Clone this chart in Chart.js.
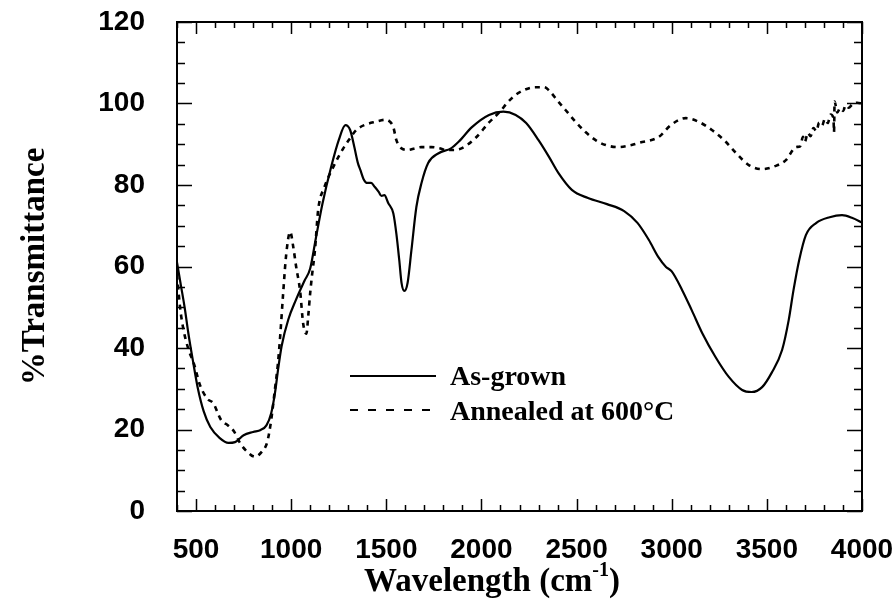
<!DOCTYPE html>
<html><head><meta charset="utf-8">
<script src="https://cdn.jsdelivr.net/npm/chart.js@4/dist/chart.umd.min.js"></script>
<style>html,body{margin:0;padding:0;background:#fff}#wrap{width:893px;height:603px}</style>
</head><body><div id="wrap"><canvas id="c" width="893" height="603"></canvas></div>
<script>
// ---- data ----
const asGrownX = [400,420,440,460,485,510,540,575,625,670,705,750,800,840,870,895,915,932,950,985,1025,1070,1100,1130,1165,1210,1250,1285,1310,1332,1350,1365,1380,1400,1420,1440,1460,1475,1490,1510,1537,1553,1568,1580,1595,1612,1632,1658,1685,1720,1775,1840,1880,1950,2040,2115,2180,2235,2300,2355,2405,2475,2560,2660,2750,2820,2880,2930,2970,3000,3055,3105,3160,3230,3300,3370,3420,3475,3525,3580,3615,3640,3670,3705,3760,3830,3895,3950,4000];
const asGrownY = [61,55.5,50,43.5,36.5,30,24.5,20.6,17.9,16.7,16.9,18.6,19.4,19.9,21,24,29,35,40.5,47,51.8,56.5,59.5,67,75.5,84.4,91,94.7,93.5,89.3,85.5,83.5,81.5,80.5,80.5,79.5,78.3,77.3,77.5,75.6,73,68,61.6,56,54,56,64,74.6,80.5,85.4,87.8,89,90.6,94.2,97.2,98,97.2,95.2,91,86.9,82.9,78.8,76.8,75.3,73.6,70.7,66.5,62.3,59.9,58.8,54.2,49.3,43.7,37.8,32.9,29.7,29.2,30.4,33.9,39.5,46.9,54.2,61.6,67.7,70.7,72.1,72.6,71.9,70.8];

const annealedX = [400,416,432,458,490,520,560,590,632,668,700,731,770,810,845,874,895,915,930,942,958,974,995,1011,1026,1047,1063,1080,1090,1100,1110,1125,1142,1175,1221,1274,1310,1342,1390,1442,1495,1520,1537,1553,1580,1616,1650,1684,1737,1780,1811,1850,1895,1968,2037,2105,2132,2195,2284,2330,2353,2405,2442,2495,2547,2600,2653,2721,2789,2826,2932,2995,3074,3142,3211,3284,3337,3405,3474,3547,3600,3653,3675,3690,3700,3715,3730,3745,3760,3775,3790,3805,3820,3835,3850,3853,3856,3870,3885,3900,3915,3930,3950,3975,4000];
const annealedY = [58,50,45,40,36,31,27.5,26.5,22.3,21,19.5,16.7,14.5,13.3,14.5,16.9,22.3,30,36,42.7,53.5,63,68.5,64.8,60,54,46,43.5,48,53.5,58,64,73.9,79.5,84.4,89,91.5,93.5,94.8,95.5,96,95.5,94.2,91,89,88.6,89,89.3,89.3,89,88.6,88.6,89,91.5,95.2,98.4,100,102.6,104,104,103.3,100.4,98.4,95.5,93,91,89.8,89.3,89.8,90.3,91.8,94.7,96.4,95.5,93.5,90.6,87.9,84.9,83.9,84.7,86.1,89.3,89.5,91.8,90.6,92.8,92,94,93.2,95.3,94.6,96.2,95.2,97.3,96.4,93,100.5,97.8,98.9,98.2,99.6,99,99.8,100.2,100];

const seriesNames = ['As-grown', 'Annealed at 600\u00B0C'];
const xTickValues = [500,1000,1500,2000,2500,3000,3500,4000];
const yTickValues = [0,20,40,60,80,100,120];
const xTitleMain = 'Wavelength (cm';
const xTitleSup = '-1';
const xTitleEnd = ')';
const yTitle = '%Transmittance';

function pts(xs, ys) { return xs.map((x, i) => ({ x: x, y: ys[i] })); }

const framePlugin = {
  id: 'frame',
  afterDraw(chart) {
    const ctx = chart.ctx, a = chart.chartArea;
    const xs = chart.scales.x, ys = chart.scales.y;
    ctx.save();
    ctx.strokeStyle = '#000';
    ctx.lineWidth = 2;
    ctx.strokeRect(a.left, a.top, a.right - a.left, a.bottom - a.top);
    ctx.lineWidth = 1.5;
    ctx.beginPath();
    for (let v = 400; v <= 4000; v += 100) {
      const p = Math.round(xs.getPixelForValue(v)) + 0.5;
      const len = (v % 500 === 0) ? 12 : 6;
      ctx.moveTo(p, a.bottom); ctx.lineTo(p, a.bottom - len);
      ctx.moveTo(p, a.top); ctx.lineTo(p, a.top + len);
    }
    for (let v = 0; v <= 120; v += 5) {
      const p = Math.round(ys.getPixelForValue(v)) + 0.5;
      const len = (v % 20 === 0) ? 15 : 8;
      ctx.moveTo(a.left, p); ctx.lineTo(a.left + len, p);
      ctx.moveTo(a.right, p); ctx.lineTo(a.right - len, p);
    }
    ctx.stroke();

    // legend
    ctx.lineWidth = 2;
    ctx.beginPath(); ctx.moveTo(350, 376); ctx.lineTo(436, 376); ctx.stroke();
    ctx.setLineDash([8, 10]);
    ctx.beginPath(); ctx.moveTo(350, 410); ctx.lineTo(436, 410); ctx.stroke();
    ctx.setLineDash([]);
    ctx.fillStyle = '#000';
    ctx.font = 'bold 28px "Liberation Serif"';
    ctx.textBaseline = 'alphabetic';
    ctx.textAlign = 'left';
    ctx.fillText(seriesNames[0], 450, 385);
    ctx.fillText(seriesNames[1], 450, 420);

    // x title
    ctx.font = 'bold 33px "Liberation Serif"';
    const w1 = ctx.measureText(xTitleMain).width;
    ctx.font = 'bold 20px "Liberation Serif"';
    const w2 = ctx.measureText(xTitleSup).width;
    ctx.font = 'bold 33px "Liberation Serif"';
    const w3 = ctx.measureText(xTitleEnd).width;
    const cx = 492, total = w1 + w2 + w3;
    let x0 = cx - total / 2;
    const by = 591;
    ctx.fillText(xTitleMain, x0, by);
    ctx.font = 'bold 20px "Liberation Serif"';
    ctx.fillText(xTitleSup, x0 + w1, by - 15);
    ctx.font = 'bold 33px "Liberation Serif"';
    ctx.fillText(xTitleEnd, x0 + w1 + w2, by);

    // y title
    ctx.translate(35, (a.top + a.bottom) / 2);
    ctx.rotate(-Math.PI / 2);
    ctx.textAlign = 'center';
    ctx.textBaseline = 'middle';
    ctx.fillText(yTitle, 0, 0);
    ctx.restore();
  }
};

const tickFont = { family: '"Liberation Sans", Arial, sans-serif', size: 28, weight: 'bold' };

new Chart(document.getElementById('c'), {
  type: 'line',
  data: {
    datasets: [
      { label: seriesNames[0], data: pts(asGrownX, asGrownY), borderColor: '#000', borderWidth: 2.2,
        pointRadius: 0, cubicInterpolationMode: 'monotone', fill: false },
      { label: seriesNames[1], data: pts(annealedX, annealedY), borderColor: '#000', borderWidth: 2.6,
        borderDash: [5, 5], pointRadius: 0, cubicInterpolationMode: 'monotone', fill: false }
    ]
  },
  options: {
    responsive: false, animation: false, devicePixelRatio: 1,
    layout: { padding: { top: 22, right: 31, left: 0, bottom: 0 } },
    plugins: { legend: { display: false }, tooltip: { enabled: false } },
    scales: {
      x: {
        type: 'linear', min: 400, max: 4000,
        afterBuildTicks: s => { s.ticks = xTickValues.map(v => ({ value: v })); },
        afterFit: s => { s.height = 92; s.paddingLeft = 0; s.paddingRight = 0; },
        grid: { display: false }, border: { display: false },
        ticks: { font: tickFont, color: '#000', padding: 14, maxRotation: 0, autoSkip: false,
                 callback: v => String(v) }
      },
      y: {
        type: 'linear', min: 0, max: 120,
        afterBuildTicks: s => { s.ticks = yTickValues.map(v => ({ value: v })); },
        afterFit: s => { s.width = 177; s.paddingTop = 0; s.paddingBottom = 0; },
        grid: { display: false }, border: { display: false },
        ticks: { font: tickFont, color: '#000', padding: 24, callback: v => String(v) }
      }
    }
  },
  plugins: [framePlugin]
});
</script>
</body></html>
